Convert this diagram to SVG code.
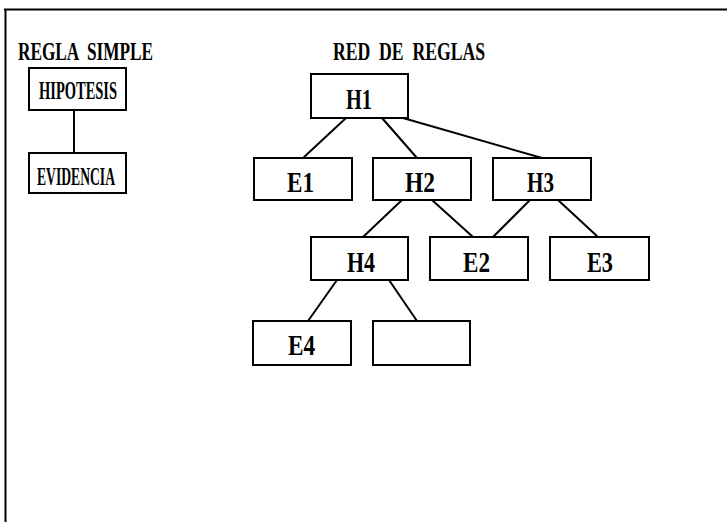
<svg xmlns="http://www.w3.org/2000/svg" width="727" height="522" viewBox="0 0 727 522">
<style>
.bx{fill:#fff;stroke:#000;stroke-width:2}
.ln{stroke:#000;stroke-width:2;fill:none}
.t{font-family:"Liberation Serif","DejaVu Serif",serif;font-weight:bold;fill:#000;text-anchor:middle}
.big{font-size:30px}
.sm{font-size:26px}
.ttl{font-size:26px;white-space:pre}
</style>
<rect width="727" height="522" fill="#fff"/>
<g id="frame"><path class="ln" d="M4,9.5 H727 M5.5,9 V522" stroke-width="2.5"/></g>
<g id="titles">
<text class="t ttl" x="85.5" y="60" textLength="135" lengthAdjust="spacingAndGlyphs">REGLA  SIMPLE</text>
<text class="t ttl" x="409" y="60" textLength="152" lengthAdjust="spacingAndGlyphs">RED  DE  REGLAS</text>
</g>
<g id="connectors">
<line class="ln" x1="74" y1="110" x2="74" y2="153"/>
<line class="ln" x1="346" y1="118" x2="303" y2="158"/>
<line class="ln" x1="382" y1="118" x2="417" y2="158"/>
<line class="ln" x1="403" y1="118" x2="542" y2="158"/>
<line class="ln" x1="402" y1="200" x2="363" y2="237"/>
<line class="ln" x1="432" y1="200" x2="473" y2="237"/>
<line class="ln" x1="530" y1="200" x2="493" y2="237"/>
<line class="ln" x1="558" y1="200" x2="598" y2="237"/>
<line class="ln" x1="337" y1="280" x2="308" y2="321"/>
<line class="ln" x1="389" y1="280" x2="417" y2="321"/>
</g>
<g id="hipotesis"><rect class="bx" x="29" y="68" width="97" height="42"/><text class="t sm" x="78" y="99" textLength="78" lengthAdjust="spacingAndGlyphs">HIPOTESIS</text></g>
<g id="evidencia"><rect class="bx" x="29" y="153" width="97" height="40"/><text class="t sm" x="76" y="185" textLength="78" lengthAdjust="spacingAndGlyphs">EVIDENCIA</text></g>
<g id="H1"><rect class="bx" x="311" y="74" width="97" height="44"/><text class="t big" x="359" y="109" textLength="26" lengthAdjust="spacingAndGlyphs">H1</text></g>
<g id="E1"><rect class="bx" x="254" y="158" width="98" height="42"/><text class="t big" x="300.5" y="192" textLength="27" lengthAdjust="spacingAndGlyphs">E1</text></g>
<g id="H2"><rect class="bx" x="373" y="158" width="98" height="42"/><text class="t big" x="420" y="192" textLength="30" lengthAdjust="spacingAndGlyphs">H2</text></g>
<g id="H3"><rect class="bx" x="493" y="158" width="98" height="42"/><text class="t big" x="540.5" y="192" textLength="27" lengthAdjust="spacingAndGlyphs">H3</text></g>
<g id="H4"><rect class="bx" x="311" y="237" width="97" height="43"/><text class="t big" x="361" y="272" textLength="28" lengthAdjust="spacingAndGlyphs">H4</text></g>
<g id="E2"><rect class="bx" x="430" y="237" width="98" height="43"/><text class="t big" x="476.5" y="272" textLength="27" lengthAdjust="spacingAndGlyphs">E2</text></g>
<g id="E3"><rect class="bx" x="550" y="237" width="99" height="43"/><text class="t big" x="600" y="272" textLength="26" lengthAdjust="spacingAndGlyphs">E3</text></g>
<g id="E4"><rect class="bx" x="253" y="321" width="98" height="44"/><text class="t big" x="301.5" y="355" textLength="27" lengthAdjust="spacingAndGlyphs">E4</text></g>
<g id="empty"><rect class="bx" x="373" y="321" width="97" height="44"/></g>
</svg>
